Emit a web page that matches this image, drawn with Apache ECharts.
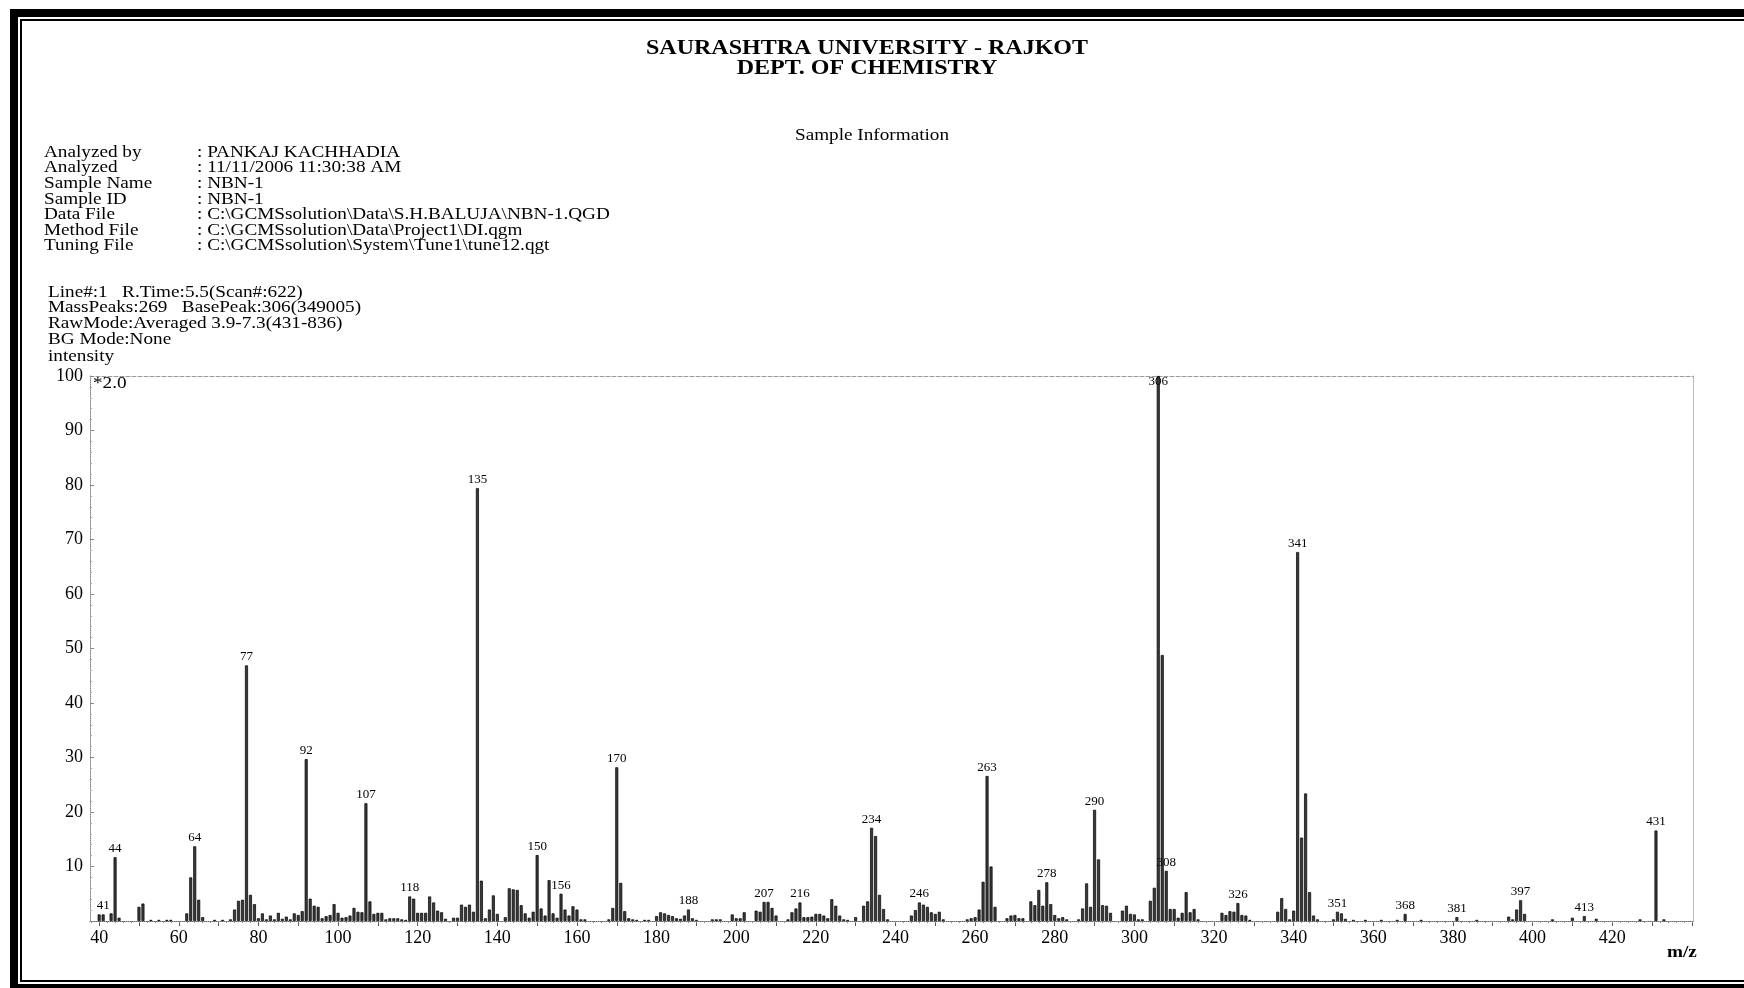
<!DOCTYPE html>
<html>
<head>
<meta charset="utf-8">
<title>NBN-1 Mass Spectrum</title>
<script src="https://cdn.jsdelivr.net/npm/echarts@6/dist/echarts.min.js"></script>
<style>
  html, body { margin: 0; padding: 0; background: #fff; }
  #chart { width: 1744px; height: 988px; }
</style>
</head>
<body>
<div id="chart"></div>
<script>
// m/z of each recorded ion
const mzValues = [
  40, 41, 43, 44, 45, 50, 51, 53, 55, 57, 58,
  62, 63, 64, 65, 66, 69, 71, 73, 74, 75, 76, 77, 78, 79, 80,
  81, 82, 83, 84, 85, 86, 87, 88, 89, 90, 91, 92, 93, 94, 95, 96, 97, 98, 99, 100,
  101, 102, 103, 104, 105, 106, 107, 108, 109, 110, 111, 112, 113, 114, 115, 116, 117, 118, 119, 120,
  121, 122, 123, 124, 125, 126, 127, 129, 130, 131, 132, 133, 134, 135, 136, 137, 138, 139, 140,
  142, 143, 144, 145, 146, 147, 148, 149, 150, 151, 152, 153, 154, 155, 156, 157, 158, 159, 160,
  161, 162, 168, 169, 170, 171, 172, 173, 174, 175, 177, 178, 180,
  181, 182, 183, 184, 185, 186, 187, 188, 189, 190, 194, 195, 196, 199, 200,
  201, 202, 205, 206, 207, 208, 209, 210, 213, 214, 215, 216, 217, 218, 219, 220,
  221, 222, 223, 224, 225, 226, 227, 228, 230, 232, 233, 234, 235, 236, 237, 238,
  244, 245, 246, 247, 248, 249, 250, 251, 252, 258, 259, 260,
  261, 262, 263, 264, 265, 268, 269, 270, 271, 272, 274, 275, 276, 277, 278, 279, 280,
  281, 282, 283, 286, 287, 288, 289, 290, 291, 292, 293, 294, 297, 298, 299, 300,
  301, 302, 304, 305, 306, 307, 308, 309, 310, 311, 312, 313, 314, 315, 316,
  322, 323, 324, 325, 326, 327, 328, 329, 336, 337, 338, 339, 340,
  341, 342, 343, 344, 345, 346, 350, 351, 352, 353, 355, 358, 362, 366, 368, 372,
  381, 386, 394, 395, 396, 397, 398, 405, 410, 413, 416, 427, 431, 433
];

// relative intensity (%) of each ion, base peak = 100
const intensities = [
  1.2, 1.2, 1.4, 11.7, 0.6, 2.6, 3.2, 0.2, 0.2, 0.2, 0.2,
  1.4, 8.0, 13.7, 3.9, 0.7, 0.2, 0.2, 0.3, 2.1, 3.7, 3.9, 46.9, 4.8, 3.1, 0.5,
  1.4, 0.3, 1.0, 0.3, 1.5, 0.4, 0.8, 0.3, 1.4, 1.1, 1.8, 29.7, 4.1, 2.8, 2.6, 0.5, 0.9, 1.1, 3.1, 1.5,
  0.6, 0.7, 1.0, 2.4, 1.7, 1.6, 21.6, 3.6, 1.3, 1.5, 1.5, 0.3, 0.5, 0.5, 0.5, 0.3, 0.2, 4.5, 4.1, 1.5,
  1.5, 1.5, 4.5, 3.4, 1.9, 1.6, 0.4, 0.6, 0.6, 3.0, 2.6, 3.0, 1.7, 79.4, 7.4, 0.5, 2.1, 4.7, 1.3,
  0.7, 6.0, 5.8, 5.7, 2.9, 1.4, 0.6, 1.7, 12.1, 2.3, 1.0, 7.5, 1.4, 0.6, 5.0, 2.1, 1.0, 2.7, 2.1,
  0.3, 0.3, 0.3, 2.4, 28.2, 7.0, 1.8, 0.5, 0.3, 0.2, 0.2, 0.2, 0.9,
  1.6, 1.4, 1.1, 0.9, 0.5, 0.4, 1.0, 2.1, 0.5, 0.2, 0.3, 0.3, 0.3, 1.2, 0.5,
  0.5, 1.6, 1.9, 1.7, 3.5, 3.5, 2.4, 1.0, 0.3, 1.6, 2.3, 3.4, 0.7, 0.7, 0.8, 1.3,
  1.3, 1.0, 0.5, 4.0, 2.8, 1.0, 0.3, 0.2, 0.7, 2.8, 3.6, 17.1, 15.6, 4.8, 2.2, 0.3,
  1.0, 2.0, 3.4, 3.0, 2.6, 1.6, 1.3, 1.7, 0.3, 0.3, 0.5, 0.7,
  2.1, 7.2, 26.6, 10.0, 2.6, 0.5, 1.0, 1.1, 0.5, 0.5, 3.6, 2.9, 5.7, 2.8, 7.1, 3.1, 1.1,
  0.5, 0.7, 0.3, 0.3, 2.3, 6.9, 2.6, 20.4, 11.3, 2.9, 2.8, 1.5, 1.9, 2.8, 1.3, 1.2,
  0.3, 0.3, 3.7, 6.1, 100, 48.8, 9.2, 2.2, 2.2, 0.6, 1.5, 5.3, 1.6, 2.2, 0.3,
  1.5, 1.1, 1.8, 1.7, 3.3, 1.1, 1.0, 0.2, 1.7, 4.2, 2.2, 0.3, 1.9,
  67.7, 15.3, 23.4, 5.3, 1.0, 0.3, 0.3, 1.7, 1.4, 0.4, 0.2, 0.2, 0.2, 0.2, 1.3, 0.2,
  0.7, 0.2, 0.8, 0.3, 2.1, 3.8, 1.3, 0.3, 0.6, 0.9, 0.4, 0.3, 16.6, 0.3
];

// peaks annotated with their m/z
const labeledPeaks = [41, 44, 64, 77, 92, 107, 118, 135, 150, 156, 170, 188, 207, 216, 234,
  246, 263, 278, 290, 306, 308, 326, 341, 351, 368, 381, 397, 413, 431];

// axis tick labels
const xTickLabels = [40, 60, 80, 100, 120, 140, 160, 180, 200, 220, 240, 260, 280, 300, 320, 340, 360, 380, 400, 420];
const xMajorTicks = [40, 50, 60, 70, 80, 90, 100, 110, 120, 130, 140, 150, 160, 170, 180, 190, 200, 210, 220,
  230, 240, 250, 260, 270, 280, 290, 300, 310, 320, 330, 340, 350, 360, 370, 380, 390, 400, 410, 420, 430, 440];
const xMinorTicks = [];
for (let v = 38; v <= 440; v += 2) xMinorTicks.push(v);

// header text
const titleLines = ['SAURASHTRA UNIVERSITY - RAJKOT', 'DEPT. OF CHEMISTRY'];
const infoKeys = ['Analyzed by', 'Analyzed', 'Sample Name', 'Sample ID', 'Data File', 'Method File', 'Tuning File'];
const infoValues = [
  ': PANKAJ KACHHADIA',
  ': 11/11/2006 11:30:38 AM',
  ': NBN-1',
  ': NBN-1',
  ': C:\\GCMSsolution\\Data\\S.H.BALUJA\\NBN-1.QGD',
  ': C:\\GCMSsolution\\Data\\Project1\\DI.qgm',
  ': C:\\GCMSsolution\\System\\Tune1\\tune12.qgt'
];
const scanLines = [
  'Line#:1   R.Time:5.5(Scan#:622)',
  'MassPeaks:269   BasePeak:306(349005)',
  'RawMode:Averaged 3.9-7.3(431-836)',
  'BG Mode:None'
];

const SERIF = '"Liberation Serif", "DejaVu Serif", serif';
const STRETCH = 1.2;

function txt(x, y, text, size, opts) {
  opts = opts || {};
  return {
    type: 'text', x: x, y: y, scaleX: opts.scaleX || STRETCH, scaleY: 1, silent: true,
    style: {
      text: text,
      font: (opts.bold ? 'bold ' : '') + size + 'px ' + SERIF,
      fill: '#000',
      textAlign: opts.align || 'left',
      textVerticalAlign: 'middle',
      verticalAlign: 'middle'
    }
  };
}

const graphics = [
  // page frame
  { type: 'rect', silent: true, shape: { x: 10, y: 9, width: 1734, height: 8 }, style: { fill: '#000' } },
  { type: 'rect', silent: true, shape: { x: 10, y: 9, width: 8, height: 979 }, style: { fill: '#000' } },
  { type: 'rect', silent: true, shape: { x: 20, y: 19, width: 1724, height: 2 }, style: { fill: '#000' } },
  { type: 'rect', silent: true, shape: { x: 20, y: 19, width: 2, height: 962 }, style: { fill: '#000' } },
  { type: 'rect', silent: true, shape: { x: 20, y: 980, width: 1724, height: 2 }, style: { fill: '#000' } },
  { type: 'rect', silent: true, shape: { x: 10, y: 984, width: 1734, height: 4 }, style: { fill: '#000' } },
  txt(867, 49, titleLines[0], 20, { bold: true, align: 'center' }),
  txt(867, 69, titleLines[1], 20, { bold: true, align: 'center' }),
  txt(872, 136, 'Sample Information', 16, { align: 'center' })
];
infoKeys.forEach(function (k, i) {
  graphics.push(txt(44, 152.5 + i * 15.6, k, 16));
  graphics.push(txt(197, 152.5 + i * 15.6, infoValues[i], 16));
});
scanLines.forEach(function (s, i) {
  graphics.push(txt(48, 292.5 + i * 15.6, s, 16));
});
graphics.push(txt(48, 357, 'intensity', 16));
graphics.push(txt(93, 384, '*2.0', 16));
graphics.push(txt(1667, 953, 'm/z', 16, { bold: true }));

const peakData = mzValues.map(function (mz, i) {
  const item = { value: [mz, intensities[i]] };
  if (labeledPeaks.indexOf(mz) >= 0) {
    item.label = { show: true };
    if (mz === 306) item.label.offset = [0, 14];
  }
  return item;
});

function yTickLabelText(v) {
  return v === 0 ? '' : String(v);
}

const chart = echarts.init(document.getElementById('chart'), null, { renderer: 'canvas' });
chart.setOption({
  backgroundColor: '#fff',
  animation: false,
  grid: { left: 90, right: 51, top: 376, bottom: 67, containLabel: false },
  xAxis: [
    {
      type: 'value', min: 37.7, max: 440.3, position: 'bottom',
      splitLine: { show: false },
      axisLine: { show: true, lineStyle: { color: '#666', type: 'dotted', width: 1 } },
      axisTick: { show: true, customValues: xMajorTicks, length: 5, lineStyle: { color: '#555' } },
      axisLabel: {
        customValues: xTickLabels, margin: 8,
        fontFamily: SERIF, fontSize: 18, color: '#000'
      }
    },
    {
      type: 'value', min: 37.7, max: 440.3, position: 'bottom',
      splitLine: { show: false },
      axisLine: { show: false },
      axisTick: { show: true, customValues: xMinorTicks, length: 2, lineStyle: { color: '#888' } },
      axisLabel: { show: false }
    },
    {
      type: 'value', min: 37.7, max: 440.3, position: 'top',
      splitLine: { show: false },
      axisLine: { show: true, lineStyle: { color: '#999', type: 'dashed', width: 1 } },
      axisTick: { show: false },
      axisLabel: { show: false }
    }
  ],
  yAxis: [
    {
      type: 'value', min: 0, max: 100, interval: 10, position: 'left',
      splitLine: { show: false },
      axisLine: { show: true, lineStyle: { color: '#888', type: 'dotted', width: 1 } },
      axisTick: { show: true, inside: true, length: 4, lineStyle: { color: '#888' } },
      minorTick: { show: true, splitNumber: 5, length: 2, lineStyle: { color: '#aaa' } },
      axisLabel: {
        margin: 7, fontFamily: SERIF, fontSize: 18, color: '#000',
        formatter: yTickLabelText
      }
    },
    {
      type: 'value', min: 0, max: 100, interval: 10, position: 'right',
      splitLine: { show: false },
      axisLine: { show: true, lineStyle: { color: '#aaa', type: 'dotted', width: 1 } },
      axisTick: { show: false },
      axisLabel: { show: false }
    }
  ],
  series: [{
    type: 'bar',
    xAxisIndex: 0,
    yAxisIndex: 0,
    barWidth: 3,
    data: peakData,
    itemStyle: { color: '#3a3a3a', borderColor: '#000', borderWidth: 0.7 },
    label: {
      show: false, position: 'top', distance: 2,
      fontFamily: SERIF, fontSize: 13, color: '#000',
      formatter: function (p) { return String(p.value[0]); }
    },
    emphasis: { disabled: true }
  }],
  graphic: graphics
});
</script>
</body>
</html>
